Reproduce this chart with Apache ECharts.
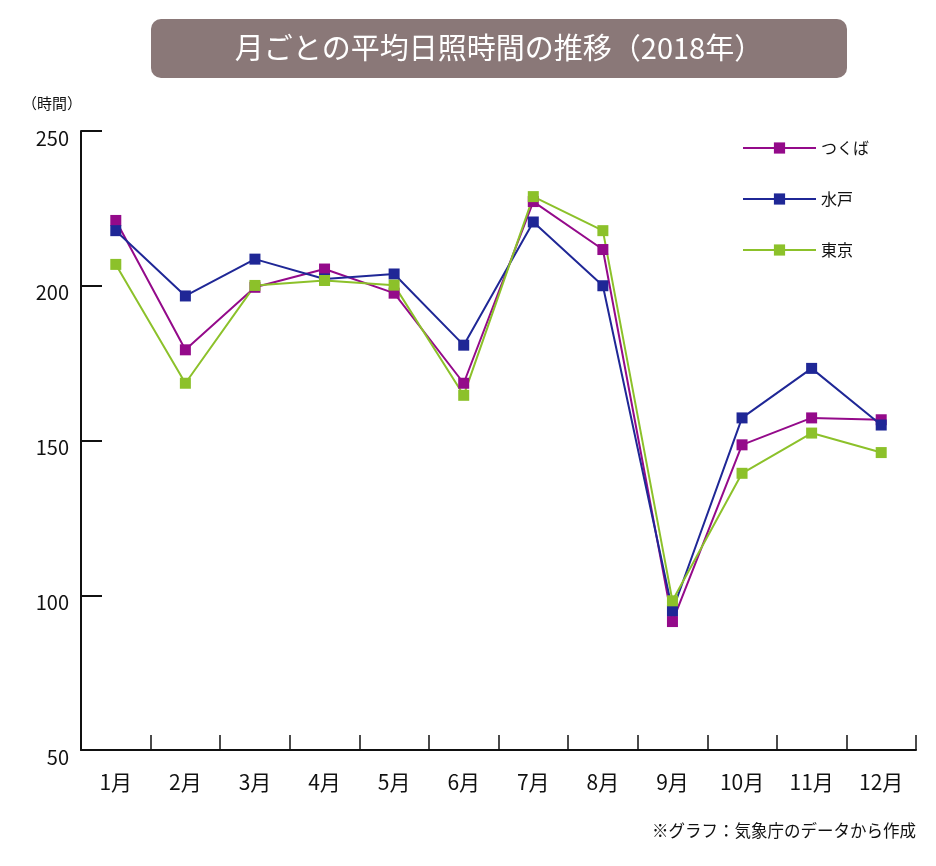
<!DOCTYPE html>
<html><head><meta charset="utf-8">
<script src="https://cdn.jsdelivr.net/npm/echarts@6/dist/echarts.min.js"></script>
<style>html,body{margin:0;padding:0;background:#fff}#c{width:936px;height:866px}</style>
</head><body><div id="c"></div>
<script>
const months = ['1月','2月','3月','4月','5月','6月','7月','8月','9月','10月','11月','12月'];
const tsukuba = [221.1,179.3,199.5,205.4,197.6,168.5,227.2,211.7,91.5,148.6,157.3,156.7];
const mito    = [217.8,196.7,208.6,202.2,203.8,180.8,220.6,200.0,95.0,157.3,173.3,155.0];
const tokyo   = [206.9,168.5,200.1,201.7,200.2,164.6,228.8,217.8,98.2,139.4,152.4,146.1];
const seriesNames = ['つくば','水戸','東京'];
const colors = ['#940a8a','#1f2796','#8cc12a'];
const yTicks = [50,100,150,200,250];

const font = '"Noto Sans CJK JP","Noto Sans",sans-serif';
const chart = echarts.init(document.getElementById('c'));
const mk = (name, data, color) => ({
  name, type:'line', data, symbol:'rect', symbolSize:11,
  lineStyle:{color, width:2}, itemStyle:{color}, color
});
chart.setOption({
  animation:false,
  textStyle:{fontFamily:font},
  grid:{left:81, right:20, top:131, bottom:116},
  legend:{
    orient:'vertical', left:737, top:135, itemWidth:73, itemHeight:14, itemGap:35,
    data:seriesNames, textStyle:{fontSize:16, color:'#111', fontFamily:font}
  },
  xAxis:{
    type:'category', data:months, boundaryGap:true,
    axisLine:{lineStyle:{color:'#111', width:2}},
    axisTick:{show:true, interval:0, inside:true, length:15, lineStyle:{color:'#111', width:1.5}},
    axisLabel:{fontSize:21, color:'#111', margin:22, fontFamily:font}
  },
  yAxis:{
    type:'value', min:yTicks[0], max:yTicks[yTicks.length-1], interval:50,
    axisLine:{show:true, lineStyle:{color:'#111', width:2}},
    axisTick:{show:true, inside:true, length:21, lineStyle:{color:'#111', width:2}},
    splitLine:{show:false},
    axisLabel:{fontSize:20, color:'#111', margin:12, verticalAlign:'top', lineHeight:14, fontFamily:font}
  },
  graphic:[
    {type:'rect', shape:{x:151, y:19, width:696, height:59, r:10}, style:{fill:'#8a7878'}},
    {type:'text', style:{x:499, y:48, text:'月ごとの平均日照時間の推移（2018年）', fill:'#fff', font:'29px '+font, textAlign:'center', textVerticalAlign:'middle'}},
    {type:'text', style:{x:22, y:103, text:'（時間）', fill:'#111', font:'15px '+font, textAlign:'left', textVerticalAlign:'middle'}},
    {type:'text', style:{x:916, y:831, text:'※グラフ：気象庁のデータから作成', fill:'#111', font:'16.5px '+font, textAlign:'right', textVerticalAlign:'middle'}}
  ],
  series:[mk(seriesNames[0], tsukuba, colors[0]), mk(seriesNames[1], mito, colors[1]), mk(seriesNames[2], tokyo, colors[2])]
});
</script></body></html>
